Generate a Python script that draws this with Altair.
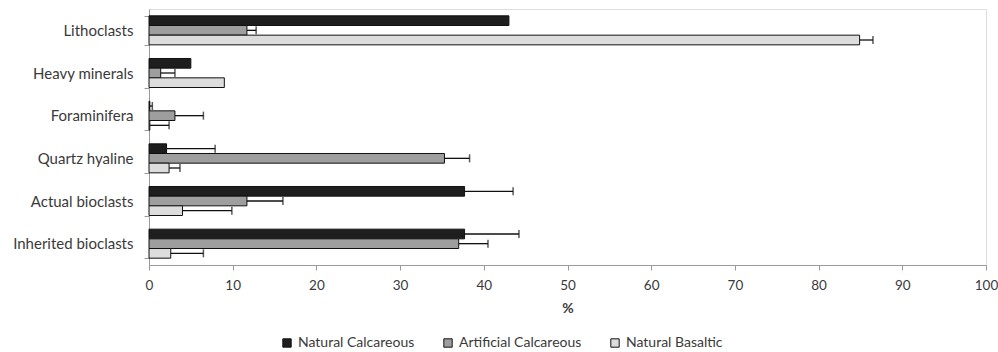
import altair as alt
import pandas as pd

categories = ["Lithoclasts", "Heavy minerals", "Foraminifera",
              "Quartz hyaline", "Actual bioclasts", "Inherited bioclasts"]
series = ["Natural Calcareous", "Artificial Calcareous", "Natural Basaltic"]

# mean percentage per category, one list per series
natural_calcareous = [43.0, 5.0, 0.1, 2.1, 37.7, 37.7]
artificial_calcareous = [11.7, 1.4, 3.1, 35.3, 11.7, 37.0]
natural_basaltic = [84.9, 9.0, 0.1, 2.4, 4.0, 2.6]

# standard deviation (upper error bar)
natural_calcareous_sd = [0.0, 0.0, 0.3, 5.8, 5.8, 6.5]
artificial_calcareous_sd = [1.1, 1.7, 3.4, 3.0, 4.3, 3.5]
natural_basaltic_sd = [1.6, 0.0, 2.3, 1.3, 5.9, 3.9]

rows = []
for s, vals, sds in [
    (series[0], natural_calcareous, natural_calcareous_sd),
    (series[1], artificial_calcareous, artificial_calcareous_sd),
    (series[2], natural_basaltic, natural_basaltic_sd),
]:
    for c, v, e in zip(categories, vals, sds):
        rows.append({"category": c, "series": s, "value": v, "upper": v + e, "sd": e})
df = pd.DataFrame(rows)

font = "Lato"
text_color = "#3a3a3a"
axis_color = "#9a9a9a"

y_enc = alt.Y("category:N", sort=categories, title=None,
              scale=alt.Scale(paddingInner=0.32, paddingOuter=0.16),
              axis=alt.Axis(tickBand="extent", labelFontSize=15, labelPadding=11,
                            labelColor=text_color, domainColor=axis_color,
                            tickColor=axis_color, tickSize=5, labelFont=font))
yoff = alt.YOffset("series:N", sort=series, scale=alt.Scale(domain=series))

bars = alt.Chart(df).mark_bar(stroke="#111111", strokeWidth=1).encode(
    x=alt.X("value:Q", title="%",
            scale=alt.Scale(domain=[0, 100], nice=False),
            axis=alt.Axis(values=list(range(0, 101, 10)), grid=False,
                          labelFlush=False,
                          labelFontSize=13.5, labelColor=text_color,
                          domainColor=axis_color, tickColor=axis_color,
                          tickSize=5, labelPadding=8, titleFontSize=14,
                          titleFontWeight="bold", titleColor=text_color,
                          titlePadding=10, labelFont=font, titleFont=font)),
    y=y_enc,
    yOffset=yoff,
    fill=alt.Fill("series:N", sort=series,
                  scale=alt.Scale(domain=series,
                                  range=["#1e1e1e", "#9e9e9e", "#dddddd"]),
                  legend=alt.Legend(title=None, orient="none", direction="horizontal",
                                    legendX=131, legendY=327, symbolType="square",
                                    symbolSize=70, symbolStrokeColor="#111111",
                                    symbolStrokeWidth=1, labelFontSize=14,
                                    labelColor=text_color, columnPadding=26,
                                    labelOffset=4, labelFont=font)),
)

err_df = df[df["sd"] > 0]
err_rule = alt.Chart(err_df).mark_rule(color="#111111", strokeWidth=1.3).encode(
    x="value:Q", x2="upper:Q", y=alt.Y("category:N", sort=categories), yOffset=yoff)
err_cap = alt.Chart(err_df).mark_tick(color="#111111", thickness=1.5, size=8).encode(
    x="upper:Q", y=alt.Y("category:N", sort=categories), yOffset=yoff)

chart = alt.layer(bars, err_rule, err_cap).properties(
    width=837, height=256,
    padding={"left": 149, "top": 9, "right": 12, "bottom": 87},
    autosize="none",
).configure_view(stroke=None).configure(background="white")

chart.save("out.html", embed_options={"renderer": "svg", "actions": False})
